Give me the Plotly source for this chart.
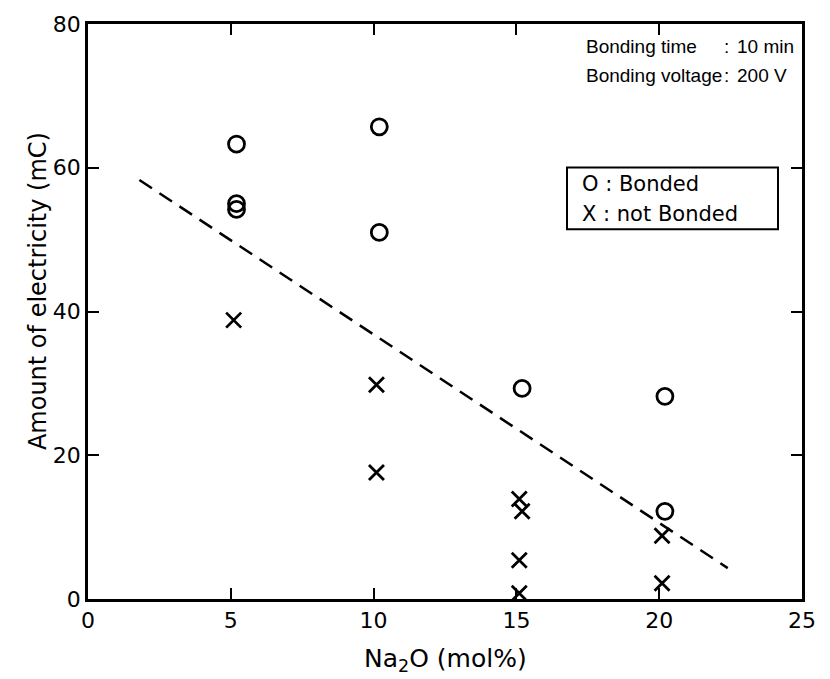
import plotly.graph_objects as go

# Data
bonded_x = [5.2, 5.2, 5.2, 10.2, 10.2, 15.2, 20.2, 20.2]
bonded_y = [63.3, 55.0, 54.2, 65.7, 51.0, 29.3, 28.2, 12.2]

not_bonded_x = [5.1, 10.1, 10.1, 15.1, 15.2, 15.1, 15.1, 20.1, 20.1]
not_bonded_y = [38.8, 29.8, 17.6, 13.9, 12.2, 5.4, 0.8, 8.8, 2.2]

trend_x = [1.8, 22.4]
trend_y = [58.3, 4.3]

x_ticks = [0, 5, 10, 15, 20, 25]
y_ticks = [0, 20, 40, 60, 80]

FONT = "DejaVu Sans, Verdana, sans-serif"
FONT2 = "Liberation Sans, Arial, sans-serif"

W, H = 830, 679
ML, MR, MT, MB = 88, 28, 22, 80
PW, PH = W - ML - MR, H - MT - MB


def px(x):
    return (x - ML) / PW


def py(y):
    return (H - MB - y) / PH


fig = go.Figure()

fig.add_trace(go.Scatter(
    x=trend_x, y=trend_y, mode="lines",
    line=dict(color="black", width=2.5, dash="15px,9px"),
    showlegend=False, hoverinfo="skip"))

fig.add_trace(go.Scatter(
    x=bonded_x, y=bonded_y, mode="markers", name="Bonded",
    marker=dict(symbol="circle-open", size=16, color="black",
                line=dict(width=2.8, color="black")),
    showlegend=False))

fig.add_trace(go.Scatter(
    x=not_bonded_x, y=not_bonded_y, mode="markers", name="not Bonded",
    marker=dict(symbol="x-thin-open", size=15, color="black",
                line=dict(width=2.8, color="black")),
    showlegend=False))

axis_common = dict(
    showline=True, linecolor="black", linewidth=2.5, mirror="ticks",
    ticks="inside", ticklen=11, tickwidth=2, tickcolor="black",
    showgrid=False, zeroline=False,
    tickfont=dict(family=FONT, size=22, color="black"),
)

fig.update_xaxes(range=[0, 25], tickvals=x_ticks,
                 ticktext=[str(v) for v in x_ticks], **axis_common)
fig.update_yaxes(range=[0, 80], tickvals=y_ticks,
                 ticktext=[str(v) for v in y_ticks], **axis_common)

# Axis titles
fig.add_annotation(xref="paper", yref="paper", x=px(38), y=py(290),
                   text="Amount of electricity (mC)", textangle=-90,
                   showarrow=False, xanchor="center", yanchor="middle",
                   font=dict(family=FONT, size=24, color="black"))
fig.add_annotation(xref="paper", yref="paper", x=px(445), y=py(660),
                   text="Na<sub>2</sub>O (mol%)",
                   showarrow=False, xanchor="center", yanchor="middle",
                   font=dict(family=FONT, size=25, color="black"))

# Conditions text
cond = [("Bonding time", "10 min", 45),
        ("Bonding voltage", "200 V", 74)]
for label, value, ycen in cond:
    fig.add_annotation(xref="paper", yref="paper", x=px(584), y=py(ycen),
                       text=label, showarrow=False, xanchor="left", yanchor="middle",
                       font=dict(family=FONT2, size=19, color="black"))
    fig.add_annotation(xref="paper", yref="paper", x=px(726), y=py(ycen),
                       text=":", showarrow=False, xanchor="center", yanchor="middle",
                       font=dict(family=FONT2, size=19, color="black"))
    fig.add_annotation(xref="paper", yref="paper", x=px(735), y=py(ycen),
                       text=value, showarrow=False, xanchor="left", yanchor="middle",
                       font=dict(family=FONT2, size=19, color="black"))

# Legend box
fig.add_shape(type="rect", xref="paper", yref="paper",
              x0=px(567), x1=px(778), y0=py(228), y1=py(166),
              line=dict(color="black", width=2), fillcolor="white", layer="above")
for sym, txt, ycen in [("O", "Bonded", 183), ("X", "not Bonded", 213)]:
    fig.add_annotation(xref="paper", yref="paper", x=px(580), y=py(ycen),
                       text=sym + " : " + txt, showarrow=False,
                       xanchor="left", yanchor="middle",
                       font=dict(family=FONT, size=21, color="black"))

fig.update_layout(
    width=W, height=H,
    margin=dict(l=ML, r=MR, t=MT, b=MB),
    paper_bgcolor="white", plot_bgcolor="white",
    font=dict(family=FONT, color="black"),
)

fig.write_html("out.html")
